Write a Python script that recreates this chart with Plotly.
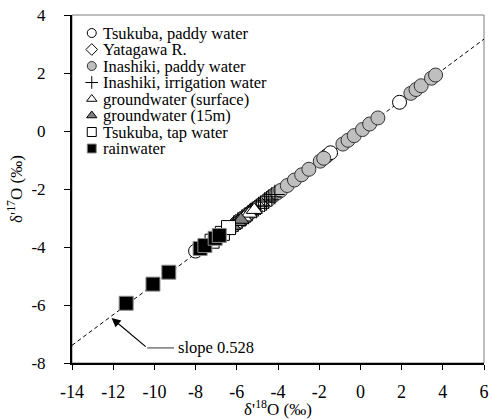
import plotly.graph_objects as go

# ---------------- data (δ'18O, δ'17O) ----------------
tsukuba_paddy_x = [-8.00, -1.65, -1.45, 1.90]
tsukuba_paddy_y = [-4.14, -0.87, -0.75, 0.99]

yatagawa_x = [-6.05, -5.85, -5.65, -5.45, -5.30, -5.10, -4.90, -4.70, -4.50, -4.35]
yatagawa_y = [-3.19, -3.09, -2.98, -2.88, -2.79, -2.69, -2.58, -2.48, -2.37, -2.30]

inashiki_paddy_x = [-4.25, -4.05, -3.87, -3.55, -3.20, -2.85, -2.50, -1.95, -1.78,
                    -0.85, -0.60, -0.30, 0.10, 0.45, 0.85, 2.45, 2.70, 2.95, 3.45, 3.65]
inashiki_paddy_y = [-2.24, -2.14, -2.05, -1.88, -1.69, -1.51, -1.32, -1.04, -0.94,
                    -0.45, -0.32, -0.16, 0.05, 0.24, 0.45, 1.30, 1.43, 1.56, 1.82, 1.93]

irrigation_x = [-6.15, -5.95, -5.75, -5.60, -5.45, -5.35, -5.25, -5.05, -4.95, -4.85,
                -4.65, -4.55, -4.45, -4.30, -4.15]
irrigation_y = [-3.25, -3.14, -3.04, -2.96, -2.88, -2.83, -2.77, -2.67, -2.61, -2.56,
                -2.45, -2.41, -2.35, -2.27, -2.19]

gw_surface_x = [-6.30, -6.10, -5.90, -5.65, -5.40, -5.15]
gw_surface_y = [-3.33, -3.22, -3.12, -2.98, -2.85, -2.72]

gw_15m_x = [-6.45, -6.20, -5.95, -5.80]
gw_15m_y = [-3.41, -3.27, -3.14, -3.06]

tap_x = [-7.20, -6.70, -6.40]
tap_y = [-3.80, -3.53, -3.33]

rain_x = [-11.37, -10.07, -9.30, -7.78, -7.55, -7.05, -6.85]
rain_y = [-5.94, -5.28, -4.87, -4.05, -3.95, -3.70, -3.60]

slope = 0.528
line_x = [-14, 6]

series_names = ["Tsukuba, paddy water", "Yatagawa R.", "Inashiki, paddy water",
                "Inashiki, irrigation water", "groundwater (surface)",
                "groundwater (15m)", "Tsukuba, tap water", "rainwater"]

x_ticks = [-14, -12, -10, -8, -6, -4, -2, 0, 2, 4, 6]
y_ticks = [-8, -6, -4, -2, 0, 2, 4]

# ---------------- styles ----------------
FONT = "Liberation Serif"
styles = [
    dict(symbol="circle", color="white", line=dict(color="black", width=1)),
    dict(symbol="diamond", color="white", line=dict(color="black", width=1)),
    dict(symbol="circle", color="#bfbfbf", line=dict(color="#333333", width=1)),
    dict(symbol="cross-thin", color="black", line=dict(color="black", width=1)),
    dict(symbol="triangle-up", color="white", line=dict(color="black", width=1)),
    dict(symbol="triangle-up", color="#808080", line=dict(color="black", width=1)),
    dict(symbol="square", color="white", line=dict(color="black", width=1)),
    dict(symbol="square", color="black", line=dict(color="#8c8c8c", width=1)),
]
data_sets = [(tsukuba_paddy_x, tsukuba_paddy_y), (yatagawa_x, yatagawa_y),
             (inashiki_paddy_x, inashiki_paddy_y), (irrigation_x, irrigation_y),
             (gw_surface_x, gw_surface_y), (gw_15m_x, gw_15m_y),
             (tap_x, tap_y), (rain_x, rain_y)]

fig = go.Figure()

# reference line
fig.add_trace(go.Scatter(x=line_x, y=[slope * v for v in line_x], mode="lines",
                         line=dict(color="black", width=1, dash="4px,3px"),
                         showlegend=False, hoverinfo="skip"))

for name, (xs, ys), st in zip(series_names, data_sets, styles):
    fig.add_trace(go.Scatter(
        x=xs, y=ys, mode="markers", name=name, showlegend=False,
        marker=dict(symbol=st["symbol"], size=14, color=st["color"], line=st["line"])))

# custom compact legend on a pixel-like overlay axis
leg_rows = [33, 49.5, 66, 82.5, 99, 115.5, 132, 148.5]
leg_marker_x = 92
for name, st, ry in zip(series_names, styles, leg_rows):
    fig.add_trace(go.Scatter(
        x=[leg_marker_x], y=[ry], xaxis="x2", yaxis="y2", mode="markers",
        showlegend=False, hoverinfo="skip",
        marker=dict(symbol=st["symbol"], size=9, color=st["color"], line=st["line"])))
    fig.add_annotation(x=leg_marker_x + 9, y=ry, xref="x2", yref="y2", text=name,
                       showarrow=False, xanchor="left", yanchor="middle",
                       font=dict(family=FONT, size=16.5, color="black"))

# slope annotation with bent leader
fig.add_shape(type="line", x0=-10.35, y0=-7.48, x1=-9.05, y1=-7.48,
              line=dict(color="#555555", width=1.2))
fig.add_annotation(x=-12.08, y=-6.45, ax=-10.35, ay=-7.48, axref="x", ayref="y",
                   xref="x", yref="y", text="", showarrow=True, arrowhead=2,
                   arrowsize=1.5, arrowwidth=1.2, arrowcolor="black")
fig.add_annotation(x=-8.95, y=-7.48, xref="x", yref="y", text="slope 0.528",
                   showarrow=False, xanchor="left", yanchor="middle",
                   font=dict(family=FONT, size=16.5, color="black"))

# gray frame (top/right)
fig.add_shape(type="rect", xref="paper", yref="paper", x0=0, y0=0, x1=1, y1=1,
              line=dict(color="#7f7f7f", width=1), layer="below")

fig.update_layout(
    width=493, height=419,
    margin=dict(l=72, r=4, t=15, b=56),
    paper_bgcolor="white", plot_bgcolor="white",
    font=dict(family=FONT, size=17, color="black"),
    showlegend=False,
    xaxis=dict(range=[-14, 6], tickvals=x_ticks, ticktext=[str(v) for v in x_ticks],
               showgrid=False, zeroline=False, showline=True, linecolor="black",
               linewidth=2, ticks="outside", ticklen=5, tickwidth=1, tickcolor="black",
               ticklabelstandoff=6, ticklabeloverflow="allow",
               title=dict(text="δ'<sup>18</sup>O (‰)", font=dict(size=17), standoff=2),
               tickfont=dict(size=18)),
    yaxis=dict(range=[-8, 4], tickvals=y_ticks, ticktext=[str(v) for v in y_ticks],
               showgrid=False, zeroline=False, showline=True, linecolor="black",
               linewidth=2, ticks="outside", ticklen=6, tickwidth=1, tickcolor="black",
               ticklabelstandoff=15, ticklabeloverflow="allow",
               title=dict(text="δ'<sup>17</sup>O (‰)", font=dict(size=17), standoff=4),
               tickfont=dict(size=17)),
    xaxis2=dict(overlaying="x", range=[72, 489], visible=False, fixedrange=True),
    yaxis2=dict(overlaying="y", range=[363, 15], visible=False, fixedrange=True),
)

fig.write_html("out.html")
